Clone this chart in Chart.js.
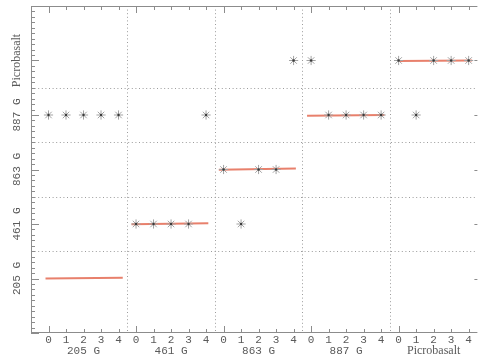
<!DOCTYPE html>
<html><head><meta charset="utf-8">
<script src="https://cdn.jsdelivr.net/npm/chart.js@4"></script>
<style>html,body{margin:0;padding:0;background:#fff}canvas{display:block}</style>
</head>
<body>
<canvas id="c" width="483" height="358"></canvas>
<script>
// Column groups (x axis) and row categories (y axis)
const groups = ['205 G', '461 G', '863 G', '887 G', 'Picrobasalt'];
const subTicks = [0, 1, 2, 3, 4];
const rowLabels = ['205 G', '461 G', '863 G', '887 G', 'Picrobasalt'];

// Asterisk markers (x position on 0..24 continuous axis, y row index)
const pointsX = [0, 1, 2, 3, 4, 9, 16, 17, 18, 19, 21, 14, 15, 20, 22, 23, 24, 10, 12, 13, 5, 6, 7, 8, 11];
const pointsY = [3, 3, 3, 3, 3, 3, 3, 3, 3, 3, 3, 4, 4, 4, 4, 4, 4, 2, 2, 2, 1, 1, 1, 1, 1];

// Red fitted segments, one per group
const fitStartX = [-0.17, 4.74, 9.73, 14.77, 19.98];
const fitEndX = [4.24, 9.13, 14.13, 19.19, 24.2];
const fitStartY = [0.0, 0.995, 1.995, 2.985, 3.99];
const fitEndY = [0.015, 1.015, 2.02, 3.0, 4.0];

// Dotted separators
const vSeparators = [4.5, 9.5, 14.5, 19.5];
const hSeparators = [0.5, 1.5, 2.5, 3.5];

const MONO = '11px "Liberation Mono", "DejaVu Sans Mono", monospace';
const SERIF = '12px "Liberation Serif", "DejaVu Serif", serif';
function fontFor(t) { return /\d/.test(t) ? MONO : SERIF; }

const framePlugin = {
  id: 'frame',
  beforeDatasetsDraw(chart) {
    const ctx = chart.ctx, xs = chart.scales.x, ys = chart.scales.y, a = chart.chartArea;
    ctx.save();
    ctx.strokeStyle = '#9c9c9c';
    ctx.lineWidth = 1;
    ctx.setLineDash([1, 2.6]);
    vSeparators.forEach(v => {
      const px = Math.round(xs.getPixelForValue(v)) + 0.5;
      ctx.beginPath(); ctx.moveTo(px, a.top); ctx.lineTo(px, a.bottom); ctx.stroke();
    });
    hSeparators.forEach(v => {
      const py = Math.round(ys.getPixelForValue(v)) + 0.5;
      ctx.beginPath(); ctx.moveTo(a.left, py); ctx.lineTo(a.right, py); ctx.stroke();
    });
    ctx.setLineDash([]);
    // axis lines
    ctx.strokeStyle = '#8c8c8c';
    ctx.beginPath();
    ctx.moveTo(a.left + 0.5, a.top); ctx.lineTo(a.left + 0.5, a.bottom);
    ctx.moveTo(a.left, a.bottom - 0.5); ctx.lineTo(a.right, a.bottom - 0.5);
    ctx.moveTo(a.left, a.top + 0.5); ctx.lineTo(a.right, a.top + 0.5);
    ctx.stroke();
    // x ticks (inward, bottom and top)
    ctx.beginPath();
    groups.forEach((g, gi) => {
      subTicks.forEach(s => {
        const v = gi * 5 + s;
        const px = Math.round(xs.getPixelForValue(v)) + 0.5;
        const len = s === 0 ? 7 : 4;
        ctx.moveTo(px, a.bottom); ctx.lineTo(px, a.bottom - len);
        ctx.moveTo(px, a.top); ctx.lineTo(px, a.top + len);
      });
    });
    // y ticks (inward, left) every 0.1
    for (let i = -10; i <= 50; i++) {
      const py = Math.round(ys.getPixelForValue(i / 10)) + 0.5;
      const len = (i % 10 === 0) ? 8 : 4;
      ctx.moveTo(a.left, py); ctx.lineTo(a.left + len, py);
    }
    // small right-side ticks at categories
    rowLabels.forEach((r, ri) => {
      const py = Math.round(ys.getPixelForValue(ri)) + 0.5;
      ctx.moveTo(a.right, py); ctx.lineTo(a.right - 3, py);
    });
    ctx.stroke();
    // x labels
    ctx.fillStyle = '#5a5a5a';
    ctx.textAlign = 'center';
    ctx.textBaseline = 'middle';
    groups.forEach((g, gi) => {
      ctx.font = MONO;
      subTicks.forEach(s => {
        ctx.fillText(String(s), xs.getPixelForValue(gi * 5 + s), a.bottom + 7);
      });
      ctx.font = fontFor(g);
      ctx.fillText(g, xs.getPixelForValue(gi * 5 + 2), a.bottom + 18);
    });
    // y labels (rotated)
    rowLabels.forEach((r, ri) => {
      ctx.save();
      ctx.translate(17, ys.getPixelForValue(ri));
      ctx.rotate(-Math.PI / 2);
      ctx.font = fontFor(r);
      ctx.fillText(r, 0, 0);
      ctx.restore();
    });
    ctx.restore();
  }
};

const markerData = pointsX.map((x, i) => ({ x: x, y: pointsY[i] }));
const datasets = [
  { type: 'scatter', data: markerData, pointStyle: 'circle', pointRadius: 1.2,
    backgroundColor: '#3a3a3a', borderColor: '#3a3a3a', borderWidth: 0 },
  { type: 'scatter', data: markerData, pointStyle: 'star', pointRadius: 4.6,
    borderColor: '#a3a3a3', backgroundColor: '#a3a3a3', borderWidth: 1 }
];
groups.forEach((g, gi) => {
  datasets.push({
    type: 'line',
    data: [{ x: fitStartX[gi], y: fitStartY[gi] }, { x: fitEndX[gi], y: fitEndY[gi] }],
    borderColor: '#e8806c', borderWidth: 2, pointRadius: 0, fill: false, tension: 0
  });
});

new Chart(document.getElementById('c'), {
  type: 'scatter',
  data: { datasets: datasets },
  options: {
    responsive: false,
    animation: false,
    devicePixelRatio: 1,
    layout: { padding: { left: 31, right: 2, top: 6, bottom: 25 } },
    plugins: { legend: { display: false }, tooltip: { enabled: false } },
    scales: {
      x: { type: 'linear', min: -1, max: 24.5, display: false },
      y: { type: 'linear', min: -1, max: 5, display: false }
    }
  },
  plugins: [framePlugin]
});
</script>
</body></html>
